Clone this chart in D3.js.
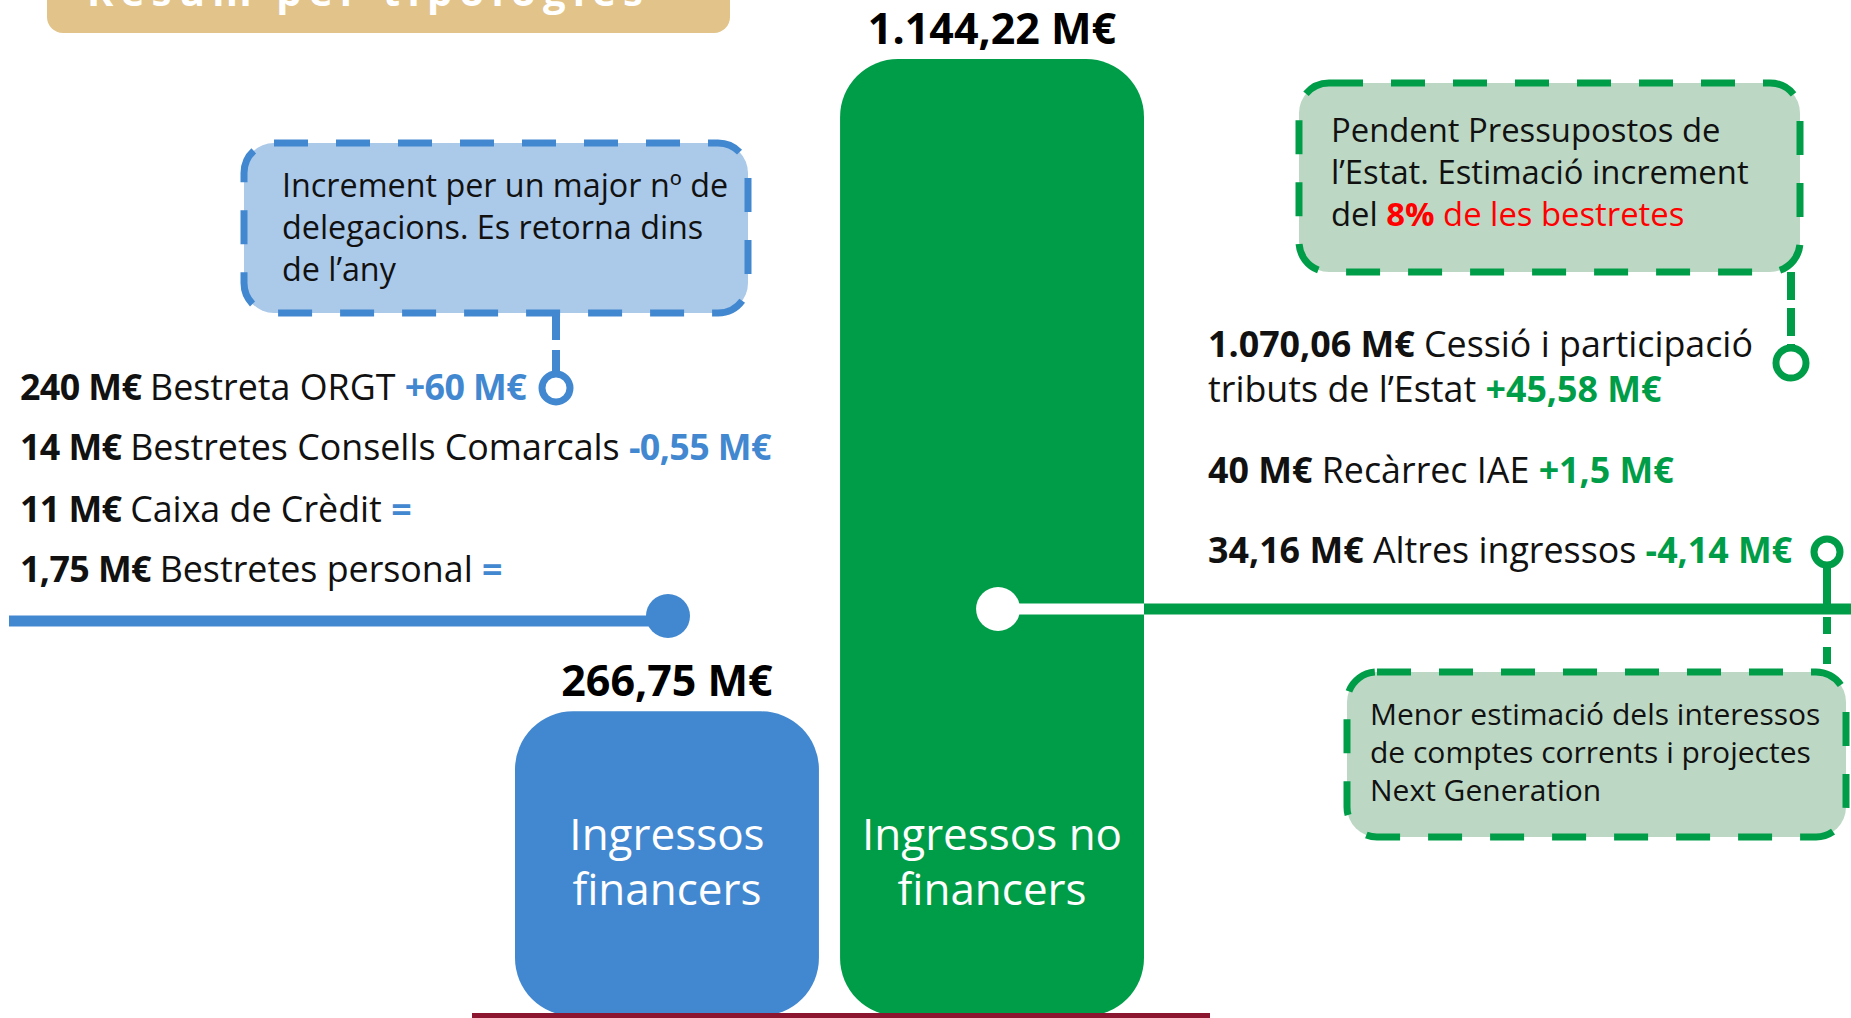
<!DOCTYPE html>
<html>
<head>
<meta charset="utf-8">
<script src="https://d3js.org/d3.v7.min.js"></script>
<style>
  body { margin: 0; background: #fff; overflow: hidden; }
  svg { display: block; }
  text { font-family: "Open Sans", "Noto Sans", sans-serif; }
</style>
</head>
<body>
<svg id="chart" width="1851" height="1018"></svg>
<script>
// bars
const categories = ["Ingressos financers", "Ingressos no financers"];
const categoryLines = [["Ingressos", "financers"], ["Ingressos no", "financers"]];
const totals = [266.75, 1144.22];
const totalLabels = ["266,75 M€", "1.144,22 M€"];

// financial income items (left)
const finAmounts = ["240 M€", "14 M€", "11 M€", "1,75 M€"];
const finNames = ["Bestreta ORGT", "Bestretes Consells Comarcals", "Caixa de Crèdit", "Bestretes personal"];
const finChanges = ["+60 M€", "-0,55 M€", "=", "="];

// non financial income items (right)
const nonFinAmounts = ["1.070,06 M€", "40 M€", "34,16 M€ "];
const nonFinNames = [["Cessió i participació", "tributs de l’Estat"], ["Recàrrec IAE"], ["Altres ingressos"]];
const nonFinChanges = ["+45,58 M€", "+1,5 M€", "-4,14 M€"];

// notes
const noteBlue = ["Increment per un major nº de", "delegacions. Es retorna dins", "de l’any"];
const noteState = ["Pendent Pressupostos de", "l’Estat. Estimació increment", "del |8%| de les bestretes"];
const noteOther = ["Menor estimació dels interessos", "de comptes corrents i projectes", "Next Generation"];

const blue = "#4288D0", green = "#009D48", blueFill = "#ABC9E9", greenFill = "#BCD8C4";
const svg = d3.select("#chart");

// title tab, cut by the top of the page
svg.append("rect").attr("x", 47).attr("y", -40).attr("width", 683).attr("height", 73)
  .attr("rx", 16).attr("fill", "#E2C48A");
svg.append("text").attr("x", 87).attr("y", 6).attr("fill", "#fff")
  .attr("font-size", 40).attr("font-weight", 700)
  .attr("textLength", 556).attr("lengthAdjust", "spacing")
  .text("Resum per tipologies");

// scales
const x = d3.scaleBand().domain(categories).range([515, 1144]).paddingInner(0.065);
const y = d3.scalePow().exponent(0.786).domain([0, 1144.22]).range([1016, 59]);
const colors = [blue, green];

svg.append("g").selectAll("rect").data(categories).join("rect")
  .attr("x", d => x(d)).attr("width", x.bandwidth())
  .attr("y", (d, i) => y(totals[i])).attr("height", (d, i) => 1016 - y(totals[i]))
  .attr("rx", 58).attr("fill", (d, i) => colors[i]);

svg.append("g").selectAll("text").data(categories).join("text")
  .attr("x", d => x(d) + x.bandwidth() / 2).attr("y", (d, i) => y(totals[i]) - 15)
  .attr("text-anchor", "middle").attr("font-size", 43).attr("font-weight", 700)
  .text((d, i) => totalLabels[i]);

categories.forEach((c, i) => {
  const t = svg.append("text").attr("text-anchor", "middle").attr("fill", "#fff").attr("font-size", 44);
  categoryLines[i].forEach((l, j) => {
    t.append("tspan").attr("x", x(c) + x.bandwidth() / 2).attr("y", 850 + j * 55).text(l);
  });
});

// base line
svg.append("rect").attr("x", 472).attr("y", 1013).attr("width", 738).attr("height", 8).attr("fill", "#8C1530");

// connector lines
const cx = x(categories[1]) + 158;
svg.append("line").attr("x1", cx).attr("x2", x(categories[1]) + x.bandwidth()).attr("y1", 609).attr("y2", 609)
  .attr("stroke", "#fff").attr("stroke-width", 11);
svg.append("circle").attr("cx", cx).attr("cy", 609).attr("r", 22).attr("fill", "#fff");
svg.append("line").attr("x1", x(categories[1]) + x.bandwidth()).attr("x2", 1851).attr("y1", 609).attr("y2", 609)
  .attr("stroke", green).attr("stroke-width", 11);

svg.append("line").attr("x1", 9).attr("x2", 668).attr("y1", 621).attr("y2", 621)
  .attr("stroke", blue).attr("stroke-width", 11);
svg.append("circle").attr("cx", 668).attr("cy", 616).attr("r", 22).attr("fill", blue);

// callout boxes
function note(x0, y0, w, h, fill, stroke, lines, tx, ty, lh, fs) {
  svg.append("rect").attr("x", x0).attr("y", y0).attr("width", w).attr("height", h).attr("rx", 30)
    .attr("fill", fill).attr("stroke", stroke).attr("stroke-width", 7).attr("stroke-dasharray", "34 28");
  const t = svg.append("text").attr("font-size", fs).attr("fill", "#111");
  lines.forEach((l, j) => {
    const parts = l.split("|");
    t.append("tspan").attr("x", tx).attr("y", ty + j * lh).text(parts[0]);
    if (parts.length > 1) {
      t.append("tspan").attr("fill", "#FF0000").attr("font-weight", 700).text(parts[1]);
      t.append("tspan").attr("fill", "#FF0000").text(parts[2]);
    }
  });
}
note(244, 143, 504, 170, blueFill, blue, noteBlue, 282, 197, 42, 32.3);
note(1299, 83, 501, 189, greenFill, green, noteState, 1331, 142, 42, 32.8);
note(1347, 672, 499, 165, greenFill, green, noteOther, 1370, 725, 38, 30);

// dashed links and rings
svg.append("line").attr("x1", 556).attr("x2", 556).attr("y1", 313).attr("y2", 372)
  .attr("stroke", blue).attr("stroke-width", 8).attr("stroke-dasharray", "27 10");
svg.append("circle").attr("cx", 556).attr("cy", 388).attr("r", 14).attr("fill", "#fff")
  .attr("stroke", blue).attr("stroke-width", 7);

svg.append("line").attr("x1", 1791).attr("x2", 1791).attr("y1", 272).attr("y2", 346)
  .attr("stroke", green).attr("stroke-width", 8).attr("stroke-dasharray", "28 8");
svg.append("circle").attr("cx", 1791).attr("cy", 363).attr("r", 15).attr("fill", "#fff")
  .attr("stroke", green).attr("stroke-width", 7);

svg.append("line").attr("x1", 1827).attr("x2", 1827).attr("y1", 566).attr("y2", 609)
  .attr("stroke", green).attr("stroke-width", 8);
svg.append("line").attr("x1", 1827).attr("x2", 1827).attr("y1", 617).attr("y2", 672)
  .attr("stroke", green).attr("stroke-width", 8).attr("stroke-dasharray", "17 13");
svg.append("circle").attr("cx", 1827).attr("cy", 552).attr("r", 13).attr("fill", "#fff")
  .attr("stroke", green).attr("stroke-width", 7);

// item lists
const finY = [400, 460, 522, 582];
finAmounts.forEach((a, i) => {
  const t = svg.append("text").attr("x", 20).attr("y", finY[i]).attr("font-size", 35.8).attr("fill", "#111");
  t.append("tspan").attr("font-weight", 700).attr("letter-spacing", -0.6).text(a + " ");
  t.append("tspan").attr("letter-spacing", 0).text(finNames[i] + " ");
  t.append("tspan").attr("font-weight", 700).attr("letter-spacing", -0.6).attr("fill", blue).text(finChanges[i]);
});

const nonFinY = [357, 483, 563];
nonFinAmounts.forEach((a, i) => {
  const t = svg.append("text").attr("font-size", 35.8).attr("fill", "#111");
  const lines = nonFinNames[i];
  t.append("tspan").attr("x", 1208).attr("y", nonFinY[i]).attr("font-weight", 700).text(a + " ");
  lines.forEach((l, j) => {
    const s = t.append("tspan").text(l + " ");
    if (j > 0) s.attr("x", 1208).attr("y", nonFinY[i] + j * 45);
  });
  t.append("tspan").attr("font-weight", 700).attr("fill", green).text(nonFinChanges[i]);
});
</script>
</body>
</html>
